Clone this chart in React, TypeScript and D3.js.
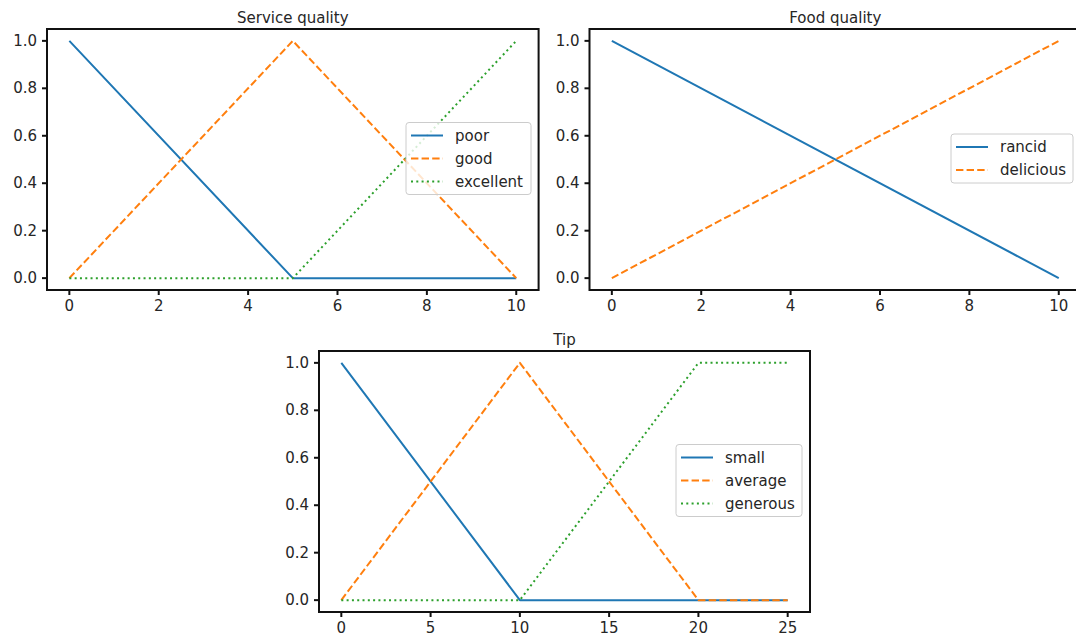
import React from "react";
import * as d3 from "d3";

// ---- Data ----
const serviceX = [0, 5, 10];
const servicePoor = [1, 0, 0];
const serviceGood = [0, 1, 0];
const serviceExcellent = [0, 0, 1];

const foodX = [0, 10];
const foodRancid = [1, 0];
const foodDelicious = [0, 1];

const tipX = [0, 10, 20, 25];
const tipSmall = [1, 0, 0, 0];
const tipAverage = [0, 1, 0, 0];
const tipGenerous = [0, 0, 1, 1];

const serviceXTicks = [0, 2, 4, 6, 8, 10];
const foodXTicks = [0, 2, 4, 6, 8, 10];
const tipXTicks = [0, 5, 10, 15, 20, 25];
const yTicks = [0, 0.2, 0.4, 0.6, 0.8, 1.0];

const BLUE = "#1f77b4";
const ORANGE = "#ff7f0e";
const GREEN = "#2ca02c";
const TEXT = "#262626";
const FONT = "DejaVu Sans, sans-serif";
const FS = 15;

type Series = { label: string; x: number[]; y: number[]; color: string; dash: string | null };

const STYLE_SOLID = null;
const STYLE_DASH = "7.4,3.2";
const STYLE_DOT = "2,3.3";

type Panel = {
  title: string;
  left: number;
  top: number;
  width: number;
  height: number;
  xDomain: [number, number];
  xTicks: number[];
  series: Series[];
  legend: { x: number; y: number; w: number };
};

const panels: Panel[] = [
  {
    title: "Service quality",
    left: 47,
    top: 29,
    width: 491.6,
    height: 261,
    xDomain: [-0.5, 10.5],
    xTicks: serviceXTicks,
    series: [
      { label: "poor", x: serviceX, y: servicePoor, color: BLUE, dash: STYLE_SOLID },
      { label: "good", x: serviceX, y: serviceGood, color: ORANGE, dash: STYLE_DASH },
      { label: "excellent", x: serviceX, y: serviceExcellent, color: GREEN, dash: STYLE_DOT },
    ],
    legend: { x: 406, y: 122.5, w: 125 },
  },
  {
    title: "Food quality",
    left: 589.5,
    top: 29,
    width: 491.6,
    height: 261,
    xDomain: [-0.5, 10.5],
    xTicks: foodXTicks,
    series: [
      { label: "rancid", x: foodX, y: foodRancid, color: BLUE, dash: STYLE_SOLID },
      { label: "delicious", x: foodX, y: foodDelicious, color: ORANGE, dash: STYLE_DASH },
    ],
    legend: { x: 951, y: 134, w: 122 },
  },
  {
    title: "Tip",
    left: 319,
    top: 351,
    width: 491,
    height: 261,
    xDomain: [-1.25, 26.25],
    xTicks: tipXTicks,
    series: [
      { label: "small", x: tipX, y: tipSmall, color: BLUE, dash: STYLE_SOLID },
      { label: "average", x: tipX, y: tipAverage, color: ORANGE, dash: STYLE_DASH },
      { label: "generous", x: tipX, y: tipGenerous, color: GREEN, dash: STYLE_DOT },
    ],
    legend: { x: 676, y: 444.5, w: 126 },
  },
];

function PanelView({ p }: { p: Panel }) {
  const x = d3.scaleLinear().domain(p.xDomain).range([p.left, p.left + p.width]);
  const y = d3.scaleLinear().domain([-0.05, 1.05]).range([p.top + p.height, p.top]);
  const bottom = p.top + p.height;
  const right = p.left + p.width;
  const clipId = "clip-" + p.title.replace(/\s/g, "");
  const rowH = 23;
  const n = p.series.length;
  const lh = 26 + (n - 1) * rowH;
  return (
    <g>
      <defs>
        <clipPath id={clipId}>
          <rect x={p.left} y={p.top} width={p.width} height={p.height} />
        </clipPath>
      </defs>
      <g clipPath={`url(#${clipId})`}>
        {p.series.map((s) => {
          const line = d3
            .line<number>()
            .x((_, i) => x(s.x[i]))
            .y((v) => y(v));
          return (
            <path
              key={s.label}
              d={line(s.y) || ""}
              fill="none"
              stroke={s.color}
              strokeWidth={2}
              strokeDasharray={s.dash || undefined}
              strokeLinejoin="round"
            />
          );
        })}
      </g>
      {/* legend */}
      <g>
        <rect
          x={p.legend.x}
          y={p.legend.y}
          width={p.legend.w}
          height={lh}
          rx={3}
          ry={3}
          fill="white"
          fillOpacity={0.8}
          stroke="#cccccc"
          strokeWidth={1}
        />
        {p.series.map((s, i) => {
          const cy = p.legend.y + 13 + i * rowH;
          return (
            <g key={s.label}>
              <line
                x1={p.legend.x + 5}
                x2={p.legend.x + 37}
                y1={cy}
                y2={cy}
                stroke={s.color}
                strokeWidth={2}
                strokeDasharray={s.dash || undefined}
              />
              <text
                x={p.legend.x + 49}
                y={cy}
                dominantBaseline="central"
                fontFamily={FONT}
                fontSize={FS}
                fill={TEXT}
              >
                {s.label}
              </text>
            </g>
          );
        })}
      </g>
      {/* spines */}
      <rect
        x={p.left}
        y={p.top}
        width={p.width}
        height={p.height}
        fill="none"
        stroke="#111"
        strokeWidth={2}
      />
      {/* x ticks */}
      {p.xTicks.map((t) => (
        <g key={"x" + t}>
          <line x1={x(t)} x2={x(t)} y1={bottom} y2={bottom + 5} stroke="#111" strokeWidth={2} />
          <text
            x={x(t)}
            y={bottom + 21}
            textAnchor="middle"
            fontFamily={FONT}
            fontSize={FS}
            fill={TEXT}
          >
            {String(t)}
          </text>
        </g>
      ))}
      {/* y ticks */}
      {yTicks.map((t) => (
        <g key={"y" + t}>
          <line x1={p.left - 5} x2={p.left} y1={y(t)} y2={y(t)} stroke="#111" strokeWidth={2} />
          <text
            x={p.left - 10}
            y={y(t)}
            textAnchor="end"
            dominantBaseline="central"
            fontFamily={FONT}
            fontSize={FS}
            fill={TEXT}
          >
            {t.toFixed(1)}
          </text>
        </g>
      ))}
      <text
        x={(p.left + right) / 2}
        y={p.top - 6.5}
        textAnchor="middle"
        fontFamily={FONT}
        fontSize={FS}
        fill={TEXT}
      >
        {p.title}
      </text>
    </g>
  );
}

export default function App() {
  return (
    <svg
      width={1076}
      height={637}
      style={{ position: "absolute", left: 0, top: 0, background: "white" }}
    >
      <rect x={0} y={0} width={1076} height={637} fill="white" />
      {panels.map((p) => (
        <PanelView key={p.title} p={p} />
      ))}
    </svg>
  );
}
